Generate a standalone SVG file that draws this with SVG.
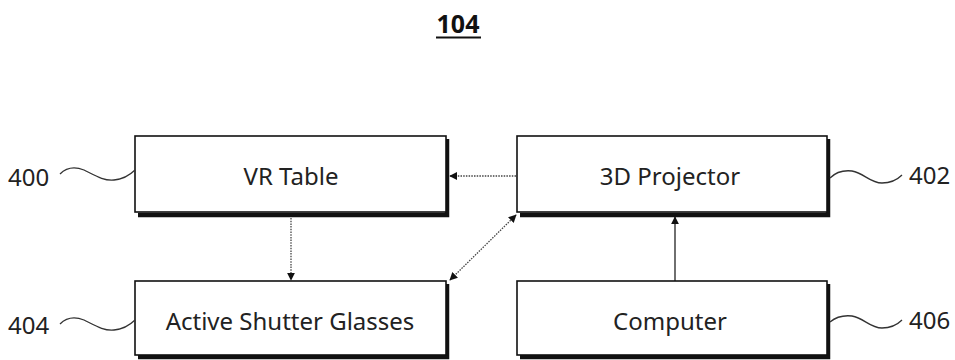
<svg xmlns="http://www.w3.org/2000/svg" width="955" height="360" viewBox="0 0 955 360">
  <style>
    .box { fill: #fff; stroke: #111; stroke-width: 1.6; }
    .shadow { fill: none; stroke: #111; stroke-width: 4.5; }
    .label { font-family: "Noto Sans", "Open Sans", sans-serif; font-size: 24px; fill: #222; text-anchor: middle; }
    .ref { font-family: "Noto Sans", "Open Sans", sans-serif; font-size: 24px; fill: #222; }
    .lead { fill: none; stroke: #333; stroke-width: 1.3; }
    .dot { fill: none; stroke: #444; stroke-width: 1.3; stroke-dasharray: 1.5 1.2; }
    .solid { fill: none; stroke: #222; stroke-width: 1.3; }
  </style>
  <defs>
    <marker id="ah" viewBox="0 0 10 10" refX="9" refY="5" markerWidth="8" markerHeight="8" markerUnits="userSpaceOnUse" orient="auto-start-reverse">
      <path d="M0,0 L10,5 L0,10 z" fill="#111"/>
    </marker>
  </defs>
  <rect width="955" height="360" fill="#fff"/>

  <g id="title">
    <text x="458" y="33" font-family="Noto Sans, Open Sans, sans-serif" font-size="25" font-weight="bold" fill="#111" text-anchor="middle">104</text>
    <line x1="436" y1="37.5" x2="481" y2="37.5" stroke="#111" stroke-width="2"/>
  </g>

  <g id="connectors">
    <line class="dot" x1="516" y1="176" x2="450" y2="176" marker-end="url(#ah)"/>
    <line class="dot" x1="291" y1="218" x2="291" y2="280" marker-end="url(#ah)"/>
    <line class="dot" x1="450" y1="280" x2="516" y2="215" marker-start="url(#ah)" marker-end="url(#ah)"/>
    <line class="solid" x1="675" y1="281" x2="675" y2="217" marker-end="url(#ah)"/>
  </g>

  <g id="n400">
    <polyline class="shadow" points="447,139 447,215 138,215"/>
    <rect class="box" x="135" y="136" width="311" height="76"/>
    <text class="label" x="291" y="185">VR Table</text>
    <path class="lead" d="M60,174 C66,168 74,166 84,170 C96,176 104,181 114,180 C124,179 130,175 135,170"/>
    <text class="ref" x="8" y="186">400</text>
  </g>

  <g id="n402">
    <polyline class="shadow" points="828,139 828,215 520,215"/>
    <rect class="box" x="517" y="136" width="310" height="76"/>
    <text class="label" x="670" y="185">3D Projector</text>
    <path class="lead" d="M830,178 C836,172 843,170 852,171 C864,173 870,183 882,183 C892,183 898,179 902,175"/>
    <text class="ref" x="909" y="184">402</text>
  </g>

  <g id="n404">
    <polyline class="shadow" points="447,284 447,357 138,357"/>
    <rect class="box" x="135" y="281" width="311" height="74"/>
    <text class="label" x="290" y="330">Active Shutter Glasses</text>
    <path class="lead" d="M60,324 C66,318 74,316 84,320 C96,326 104,331 114,330 C124,329 130,325 135,320"/>
    <text class="ref" x="8" y="334">404</text>
  </g>

  <g id="n406">
    <polyline class="shadow" points="828,284 828,357 520,357"/>
    <rect class="box" x="517" y="281" width="310" height="74"/>
    <text class="label" x="670" y="330">Computer</text>
    <path class="lead" d="M830,322 C836,317 843,315 852,316 C864,318 870,328 882,328 C892,328 898,324 902,320"/>
    <text class="ref" x="909" y="329">406</text>
  </g>
</svg>
